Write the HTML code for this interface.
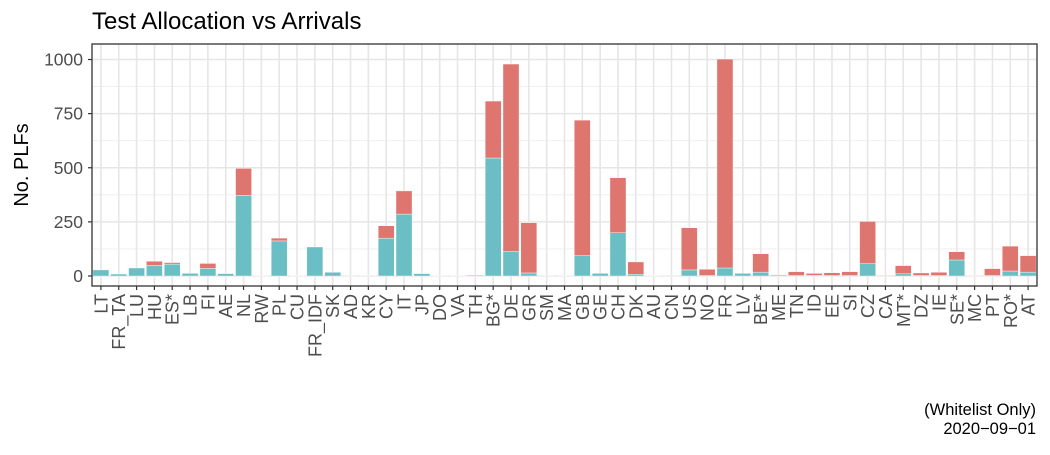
<!DOCTYPE html>
<html><head><meta charset="utf-8"><style>
body{margin:0;background:#fff;width:1050px;height:450px;overflow:hidden;font-family:"Liberation Sans",Arial,sans-serif}
</style></head><body>
<svg id="chart" width="1050" height="450" xmlns="http://www.w3.org/2000/svg" font-family="Liberation Sans, Arial, sans-serif">
<text x="92" y="29" font-size="24" fill="#000">Test Allocation vs Arrivals</text>
<text transform="translate(28,165) rotate(-90)" text-anchor="middle" font-size="20" fill="#000">No. PLFs</text>
<text x="1036" y="415" text-anchor="end" font-size="16.5" fill="#000">(Whitelist Only)</text>
<text x="1036" y="434" text-anchor="end" font-size="16.5" fill="#000">2020−09−01</text>
<g id="grid"></g><g id="bars"></g><g id="axes"></g>
</svg>
<script>
const categories=["LT","FR_TA","LU","HU","ES*","LB","FI","AE","NL","RW","PL","CU","FR_IDF","SK","AD","KR","CY","IT","JP","DO","VA","TH","BG*","DE","GR","SM","MA","GB","GE","CH","DK","AU","CN","US","NO","FR","LV","BE*","ME","TN","ID","EE","SI","CZ","CA","MT*","DZ","IE","SE*","MC","PT","RO*","AT"];
const tested=[28,9,37,49,55,12,35,11,372,1,162,1,134,17,1,1,175,286,11,1,1,4,545,114,14,1,2,94,12,200,8,2,1,28,2,37,12,18,1,2,3,2,2,57,1,10,2,2,74,1,2,23,18];
const untested=[0,0,0,19,7,0,23,0,125,0,13,0,0,0,2,1,57,107,0,0,0,0,263,865,232,1,1,626,0,254,57,2,2,195,29,965,0,85,4,18,9,13,18,195,3,38,12,15,38,2,32,115,76];
const yTicks=[0,250,500,750,1000];
const NS="http://www.w3.org/2000/svg";
const L=92,R=1037,T=44,B=286,y0=276,yScale=0.2165;
const step=(R-L)/categories.length;
function xPos(i){return L+step*(i+0.5);}
function yPos(v){return y0-v*yScale;}
function mk(tag,attrs,parent){const e=document.createElementNS(NS,tag);for(const k in attrs)e.setAttribute(k,attrs[k]);parent.appendChild(e);return e;}
const grid=document.getElementById('grid'),bars=document.getElementById('bars'),axes=document.getElementById('axes');
mk('rect',{x:L,y:T,width:R-L,height:B-T,fill:'#fff'},grid);
for(let i=0;i<yTicks.length;i++){
  const gl=mk('line',{x1:L,x2:R,y1:yPos(yTicks[i]),y2:yPos(yTicks[i]),stroke:'#e6e6e6','stroke-width':1.6},grid);
  
  
  if(i<yTicks.length-1){const m=(yTicks[i]+yTicks[i+1])/2;mk('line',{x1:L,x2:R,y1:yPos(m),y2:yPos(m),stroke:'#eeeeee','stroke-width':0.9},grid);}
  const t=mk('text',{x:L-9,y:yPos(yTicks[i])+6,'text-anchor':'end','font-size':17.5,fill:'#4d4d4d'},axes);
  t.textContent=yTicks[i];
  
  
  mk('line',{x1:L-4,x2:L,y1:yPos(yTicks[i]),y2:yPos(yTicks[i]),stroke:'#333','stroke-width':1.2},axes);
}
categories.forEach((c,i)=>{
  const x=xPos(i);
  mk('line',{x1:x,x2:x,y1:T,y2:B,stroke:'#e6e6e6','stroke-width':1.6},grid);
  const w=step*0.9;
  const b1=mk('rect',{x:x-w/2,y:yPos(tested[i]),width:w,height:tested[i]*yScale,fill:'#6bbec3',stroke:'#fff','stroke-width':0.4},bars);
  
  
  const b2=mk('rect',{x:x-w/2,y:yPos(tested[i]+untested[i]),width:w,height:untested[i]*yScale,fill:'#de766f',stroke:'#fff','stroke-width':0.4},bars);
  
  
  mk('line',{x1:x,x2:x,y1:B,y2:B+4,stroke:'#333','stroke-width':1.2},axes);
  const t=mk('text',{transform:`translate(${x+6.5},${B+8}) rotate(-90)`,'text-anchor':'end','font-size':18,fill:'#4d4d4d'},axes);
  t.textContent=c;
  
  
});
const border=mk('rect',{x:L,y:T,width:R-L,height:B-T,fill:'none',stroke:'#333','stroke-width':1.3},axes);


</script>
</body></html>
